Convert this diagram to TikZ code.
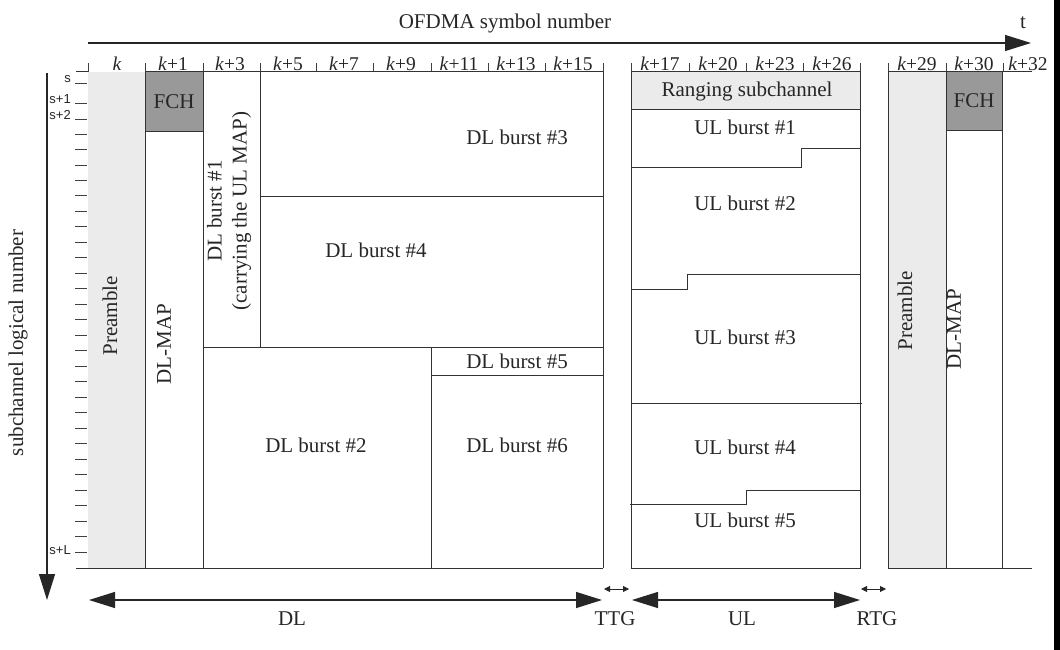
\documentclass[tikz,border=0pt]{standalone}
\usepackage{fontspec}
\setmainfont{Liberation Serif}
\newfontfamily\labsans{Liberation Sans}
\usetikzlibrary{arrows.meta}
\begin{document}
\begin{tikzpicture}[x=1pt,y=-1pt,
  ln/.style={line width=1pt, draw=black!80},
  thinln/.style={line width=0.9pt, draw=black!75},
  lbl/.style={font=\fontsize{21}{25}\selectfont, inner sep=0pt, text=black!85},
  klbl/.style={font=\fontsize{19.5}{21}\selectfont, inner sep=0pt, anchor=base, text=black!85},
  slbl/.style={font=\labsans\fontsize{13}{14}\selectfont, inner sep=0pt, anchor=east, text=black!85},
  bigarrow/.style={line width=1.2pt, draw=black!85, -{Triangle[length=26pt,width=16pt]}},
  bigboth/.style={line width=1.2pt, draw=black!85, {Triangle[length=26pt,width=16pt]}-{Triangle[length=26pt,width=16pt]}},
  smallboth/.style={line width=0.9pt, draw=black!85, {Triangle[length=6pt,width=6pt]}-{Triangle[length=6pt,width=6pt]}},
  prefill/.style={fill=black!8},
  fchbox/.style={fill=black!40, draw=black!80, line width=1pt}
]
\useasboundingbox (0,0) rectangle (1060,650);
\fill[white] (0,0) rectangle (1060,650);
\fill[black] (1054,0) rectangle (1060,650);

% ---------- top axis ----------
\coordinate (tA) at (88,43);
\coordinate (tB) at (1031,43);
\draw[bigarrow] (tA) -- (tB);
\node[lbl] (ofdma) at (505,23) {OFDMA symbol number};
\node[lbl] (tlab) at (1023,23) {t};

% ---------- vertical axis ----------
\coordinate (vA) at (47,73);
\coordinate (vB) at (47,600);
\draw[bigarrow] (vA) -- (vB);
\node[lbl, rotate=90] (subch) at (18,343) {subchannel logical number};

% left ticks
\foreach \yy in {83,103,119} \draw[thinln] (75,\yy) -- (87,\yy);
\foreach \i in {0,...,27} \draw[thinln] (75,{134+15.48*\i}) -- (87,{134+15.48*\i});
\node[slbl] (s0) at (71,79) {s};
\node[slbl] (s1) at (71,99) {s+1};
\node[slbl] (s2) at (71,115) {s+2};
\node[slbl] (sL) at (71,550) {s+L};

% ---------- column ticks and labels ----------
\foreach \xx in {88,145,203,260,316,373,431,488,545,603,631,689,746,803,860,888,946,1003}
  \draw[thinln] (\xx,63) -- (\xx,72);
\node[klbl] (c0) at (117,71) {\textit{k}};
\node[klbl] (c1) at (173,71) {\textit{k}+1};
\node[klbl] (c3) at (230,71) {\textit{k}+3};
\node[klbl] (c5) at (288,71) {\textit{k}+5};
\node[klbl] (c7) at (344,71) {\textit{k}+7};
\node[klbl] (c9) at (401,71) {\textit{k}+9};
\node[klbl] (c11) at (459,71) {\textit{k}+11};
\node[klbl] (c13) at (516,71) {\textit{k}+13};
\node[klbl] (c15) at (573,71) {\textit{k}+15};
\node[klbl] (c17) at (660,71) {\textit{k}+17};
\node[klbl] (c20) at (718,71) {\textit{k}+20};
\node[klbl] (c23) at (775,71) {\textit{k}+23};
\node[klbl] (c26) at (832,71) {\textit{k}+26};
\node[klbl] (c29) at (917,71) {\textit{k}+29};
\node[klbl] (c30) at (974,71) {\textit{k}+30};
\node[klbl] (c32) at (1028,71) {\textit{k}+32};

% ---------- DL subframe ----------
\fill[prefill] (88,72) rectangle (145,568);
\draw[ln] (76,72) -- (88,72);
\draw[ln] (145,72) -- (603,72);
\draw[ln] (76,568) -- (603,568);
\draw[fchbox] (145,72) rectangle (203,132);
\draw[ln] (145,72) -- (145,568);
\draw[ln] (203,72) -- (203,568);
\draw[ln] (260,72) -- (260,347);
\draw[ln] (603,72) -- (603,568);
\draw[ln] (260,196) -- (603,196);
\draw[ln] (203,347) -- (603,347);
\draw[ln] (431,347) -- (431,568);
\draw[ln] (431,375) -- (603,375);

\node[lbl, rotate=90] (pre1) at (110,316) {Preamble};
\node[lbl] (fch1) at (174,102) {FCH};
\node[lbl, rotate=90] (map1) at (164,344) {DL-MAP};
\node[lbl, rotate=90, align=center] (dl1) at (229,211) {DL burst \#1\\(carrying the UL MAP)};
\node[lbl] (dl3) at (517,137) {DL burst \#3};
\node[lbl] (dl4) at (376,250) {DL burst \#4};
\node[lbl] (dl5) at (517,361) {DL burst \#5};
\node[lbl] (dl2) at (316,445) {DL burst \#2};
\node[lbl] (dl6) at (517,445) {DL burst \#6};

% ---------- UL subframe ----------
\fill[prefill] (631,72) rectangle (860,110);
\draw[ln] (631,72) rectangle (860,568);
\draw[ln] (631,110) -- (860,110);
\draw[ln] (631,167) -- (801,167) -- (801,149) -- (860,149);
\draw[ln] (631,289) -- (687,289) -- (687,274) -- (860,274);
\draw[ln] (631,403) -- (862,403);
\draw[ln] (630,504) -- (746,504) -- (746,490) -- (860,490);

\node[lbl] (rng) at (747,91) {Ranging subchannel};
\node[lbl] (ul1) at (745,127) {UL burst \#1};
\node[lbl] (ul2) at (745,203) {UL burst \#2};
\node[lbl] (ul3) at (745,337) {UL burst \#3};
\node[lbl] (ul4) at (745,447) {UL burst \#4};
\node[lbl] (ul5) at (745,520) {UL burst \#5};

% ---------- next frame ----------
\fill[prefill] (888,72) rectangle (946,568);
\draw[ln] (888,72) -- (1032,72);
\draw[ln] (888,568) -- (1032,568);
\draw[ln] (888,72) -- (888,568);
\draw[fchbox] (946,72) rectangle (1002,131);
\draw[ln] (946,72) -- (946,568);
\draw[ln] (1002,72) -- (1002,568);
\node[lbl, rotate=90] (pre2) at (905,311) {Preamble};
\node[lbl] (fch2) at (974,101) {FCH};
\node[lbl, rotate=90] (map2) at (954,329) {DL-MAP};

% ---------- bottom arrows ----------
\coordinate (dlA) at (89,600);
\coordinate (dlB) at (602,600);
\draw[bigboth] (dlA) -- (dlB);
\node[lbl] (dllab) at (292,619) {DL};
\coordinate (ulA) at (632,600);
\coordinate (ulB) at (860,600);
\draw[bigboth] (ulA) -- (ulB);
\node[lbl] (ullab) at (742,619) {UL};
\coordinate (ttgA) at (604,589);
\coordinate (ttgB) at (629,589);
\draw[smallboth] (ttgA) -- (ttgB);
\node[lbl] (ttg) at (615,619) {TTG};
\coordinate (rtgA) at (861,589);
\coordinate (rtgB) at (886,589);
\draw[smallboth] (rtgA) -- (rtgB);
\node[lbl] (rtg) at (877,619) {RTG};
\end{tikzpicture}
\end{document}
